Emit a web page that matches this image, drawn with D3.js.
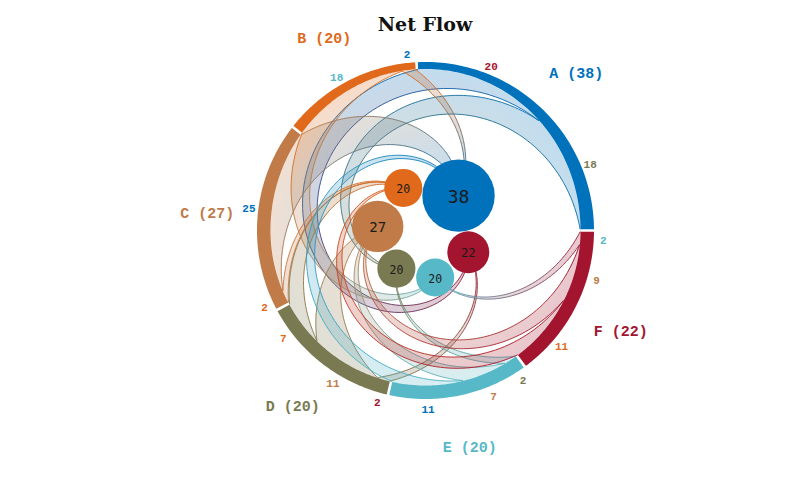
<!DOCTYPE html>
<html><head><meta charset="utf-8">
<script src="https://cdn.jsdelivr.net/npm/d3@7"></script>
<style>body{margin:0;background:#fff}</style>
</head><body>
<svg id="chart" width="800" height="500"></svg>
<script>
// ---- data ----
const nodes = ["A","B","C","D","E","F"];
const nodeColors = ["#0071BB","#E0691B","#C07B48","#7A7A52","#57B9C8","#A3142F"];
const flowSource = ["A","A","B","B","C","C","D","D","D","E","E","E","F","F","F"];
const flowTarget = ["D","F","A","E","A","B","B","C","F","A","C","D","B","C","E"];
const flowValue  = [18, 20, 2, 18, 25, 2, 7, 11, 2, 11, 7, 2, 11, 9, 2];
const titleText = "Net Flow";

// ---- layout ----
const cx = 425.5, cy = 230.5, R = 168.5, hubR = 48;
const svg = d3.select("#chart");
const defs = svg.append("defs");
const color = d3.scaleOrdinal().domain(nodes).range(nodeColors);

const totals = nodes.map(n => d3.sum(flowValue.filter((v, i) => flowSource[i] === n)));
const total = d3.sum(totals);
const startOf = {}; let acc = 0;
nodes.forEach((n, i) => { startOf[n] = acc; acc += totals[i]; });

const pos = d3.scaleLinear().domain([0, total]).range([Math.PI / 2, Math.PI / 2 - 2 * Math.PI]);
const pad = 0.45 * Math.PI / 180;
const seg = {};
nodes.forEach((n, i) => {
  const a0 = pos(startOf[n]) - pad, a1 = pos(startOf[n] + totals[i]) + pad;
  seg[n] = { a0, a1, mid: (a0 + a1) / 2, total: totals[i],
             local: d3.scaleLinear().domain([0, totals[i]]).range([a0, a1]) };
});
const thick = a => 13.5 - 6.5 * Math.pow(Math.max(0, Math.cos(a)), 2);
const inner = a => R - thick(a);

const g = svg.append("g").attr("transform", `translate(${cx},${cy})`);

// ring
const ringArea = d3.areaRadial().angle(d => d).innerRadius(d => inner(d)).outerRadius(R);
nodes.forEach(n => {
  const s = seg[n];
  const pts = d3.range(0, 81).map(k => s.a0 + (s.a1 - s.a0) * k / 80);
  g.append("path").attr("d", ringArea(pts)).attr("fill", color(n));
});

// flows with local positions
const flows = [];
const cum = {}; nodes.forEach(n => cum[n] = 0);
flowValue.forEach((v, i) => {
  const s = flowSource[i], t = flowTarget[i];
  const aS = seg[s].local(cum[s]), aE = seg[s].local(cum[s] + v);
  cum[s] += v;
  flows.push({ s, t, v, aS, aE, aT: seg[t].mid });
});

const radial = d3.lineRadial().angle(d => d[0]).radius(d => d[1]);
function P(f, s, t) {
  const base = f.aS + (f.aE - f.aS) * s;
  const ang = base + (f.aT - base) * t;
  const r0 = inner(base) - 0.3;
  return [ang, r0 + (hubR - r0) * t];
}
const xy = p => [p[1] * Math.sin(p[0]), -p[1] * Math.cos(p[0])];
const N = 70, M = 12, CH = 14, SUB = 8;
let gid = 0;
flows.forEach(f => {
  const interp = d3.interpolateRgb(color(f.s), color(f.t));
  const fillG = g.append("g").attr("opacity", 0.24);
  for (let k = 0; k < N; k++) {
    const t0 = k / N, t1 = (k + 1) / N, pts = [];
    for (let j = 0; j <= M; j++) pts.push(P(f, j / M, t0));
    pts.push(P(f, 1, (t0 + t1) / 2));
    for (let j = M; j >= 0; j--) pts.push(P(f, j / M, t1));
    pts.push(P(f, 0, (t0 + t1) / 2));
    const c = interp((t0 + t1) / 2);
    fillG.append("path").attr("d", radial.curve(d3.curveLinearClosed)(pts))
      .attr("fill", c).attr("stroke", c).attr("stroke-width", 0.6);
  }
  const edgeG = g.append("g").attr("fill", "none").attr("stroke-opacity", 0.9);
  [0, 1].forEach(s => {
    for (let k = 0; k < CH; k++) {
      const t0 = k / CH, t1 = (k + 1) / CH;
      const pts = d3.range(SUB + 1).map(j => P(f, s, t0 + (t1 - t0) * j / SUB));
      const p0 = xy(pts[0]), p1 = xy(pts[SUB]);
      const id = "eg" + (gid++);
      const lg = defs.append("linearGradient").attr("id", id)
        .attr("gradientUnits", "userSpaceOnUse")
        .attr("x1", p0[0] + cx).attr("y1", p0[1] + cy).attr("x2", p1[0] + cx).attr("y2", p1[1] + cy);
      lg.append("stop").attr("offset", 0).attr("stop-color", interp(t0));
      lg.append("stop").attr("offset", 1).attr("stop-color", interp(t1));
      edgeG.append("path").attr("d", radial.curve(d3.curveLinear)(pts))
        .attr("stroke", `url(#${id})`).attr("stroke-width", 1);
    }
  });
});

// bubbles
const rScale = d3.scaleLinear().domain([0, d3.max(totals)]).range([0, 36.2]);
nodes.forEach(n => {
  const s = seg[n];
  const x = hubR * Math.sin(s.mid), y = -hubR * Math.cos(s.mid);
  const r = rScale(s.total);
  g.append("circle").attr("cx", x).attr("cy", y).attr("r", r).attr("fill", color(n));
  g.append("text").attr("x", x).attr("y", y + 1).attr("text-anchor", "middle")
    .attr("dominant-baseline", "central")
    .attr("font-family", "DejaVu Sans Mono").attr("font-size", 4.3 + 0.38 * r)
    .attr("fill", "#1b1b1b").text(s.total);
});

// value labels
flows.forEach(f => {
  const a = (f.aS + f.aE) / 2, rr = 178;
  g.append("text").attr("x", rr * Math.sin(a)).attr("y", -rr * Math.cos(a) + 1.5)
    .attr("text-anchor", "middle").attr("dominant-baseline", "central")
    .attr("font-family", "Liberation Mono").attr("font-weight", "bold").attr("font-size", 11)
    .attr("fill", color(f.t)).text(f.v);
});

// node labels
nodes.forEach(n => {
  const a = seg[n].mid, rr = 219;
  g.append("text").attr("x", rr * Math.sin(a)).attr("y", -rr * Math.cos(a) + 3)
    .attr("text-anchor", "middle").attr("dominant-baseline", "central")
    .attr("font-family", "Liberation Mono").attr("font-weight", "bold").attr("font-size", 15)
    .attr("fill", color(n)).text(`${n} (${seg[n].total})`);
});

// title
svg.append("text").attr("x", 425).attr("y", 31).attr("text-anchor", "middle")
  .attr("font-family", "DejaVu Serif").attr("font-weight", "bold").attr("font-size", 19)
  .attr("fill", "#111").text(titleText);
</script>
</body></html>
